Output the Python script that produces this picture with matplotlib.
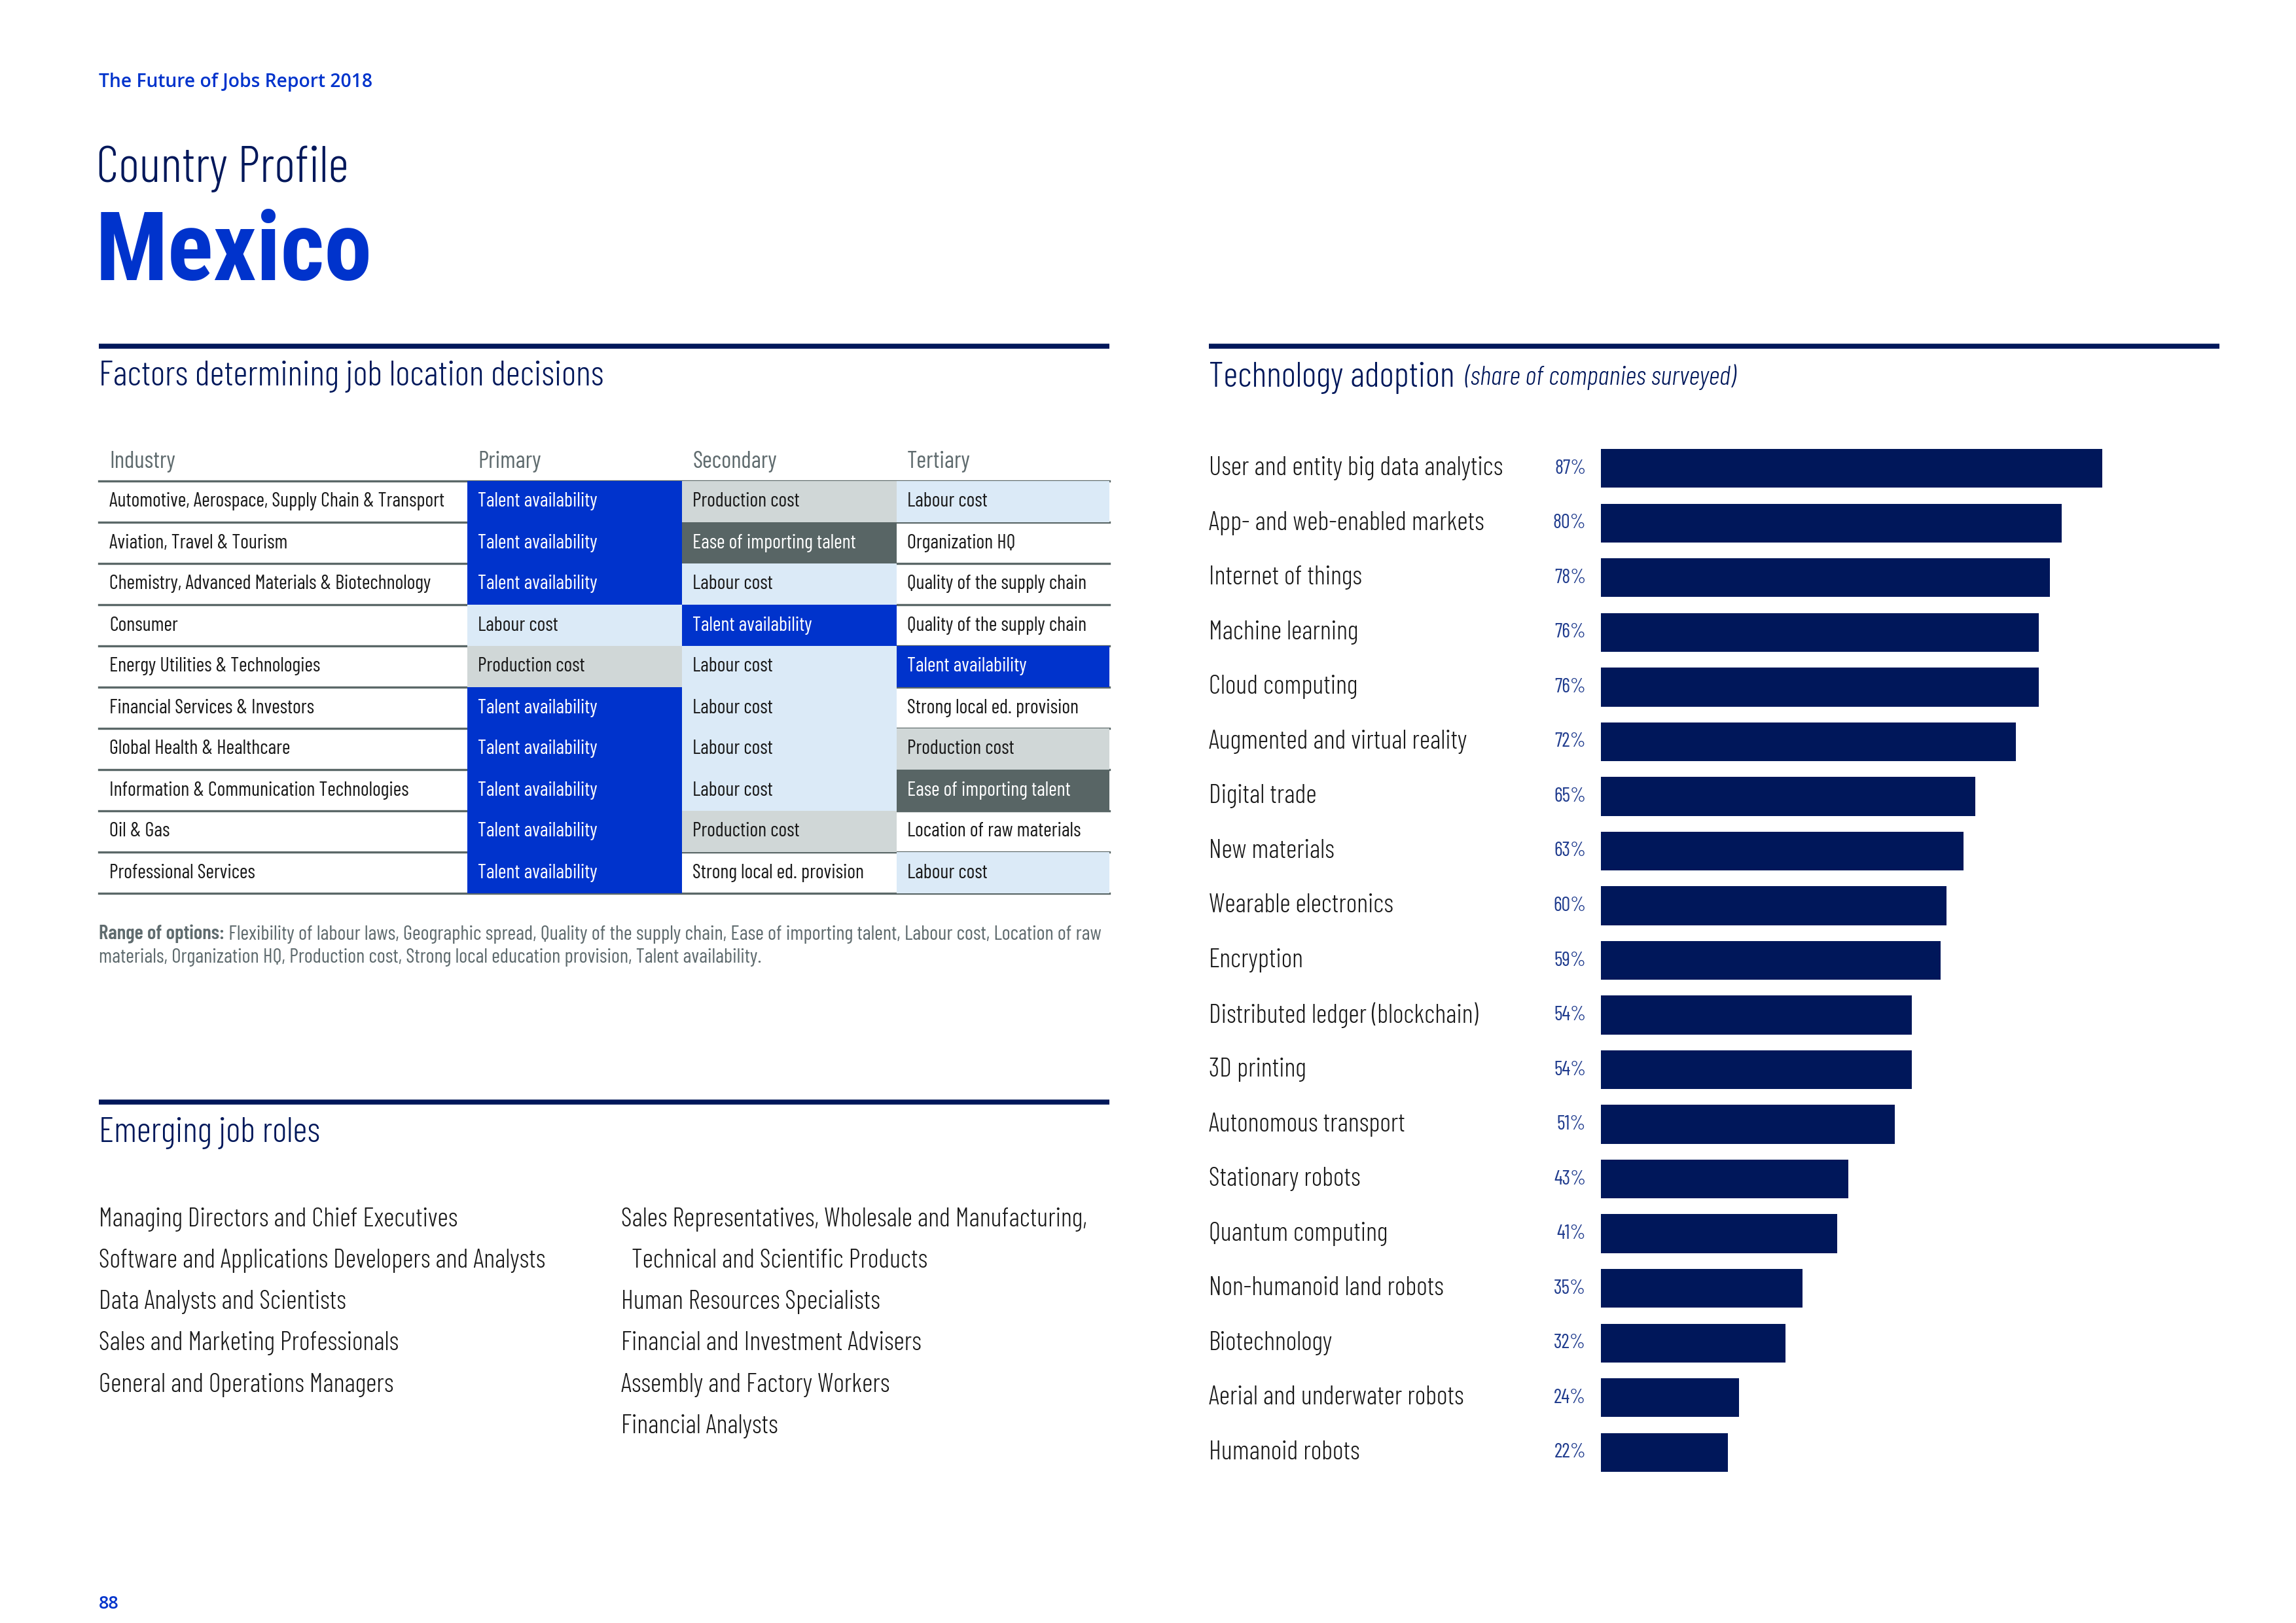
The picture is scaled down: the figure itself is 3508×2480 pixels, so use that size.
import matplotlib
matplotlib.use("Agg")
import matplotlib.pyplot as plt
from matplotlib import font_manager as fm
from matplotlib.patches import Rectangle

# fonts: the report is set in a light condensed grotesk
names = {f.name for f in fm.fontManager.ttflist}
narrow = next((n for n in ["Barlow Condensed", "Roboto Condensed", "Liberation Sans Narrow"]
               if n in names), "DejaVu Sans")
heavy = next((n for n in ["Roboto Condensed", "Barlow Condensed"] if n in names), narrow)
plain = next((n for n in ["Open Sans", "Liberation Sans"] if n in names), "DejaVu Sans")

# ---- data ----
industries = ["Automotive, Aerospace, Supply Chain & Transport", "Aviation, Travel & Tourism",
              "Chemistry, Advanced Materials & Biotechnology", "Consumer",
              "Energy Utilities & Technologies", "Financial Services & Investors",
              "Global Health & Healthcare", "Information & Communication Technologies",
              "Oil & Gas", "Professional Services"]
primary = ["Talent availability", "Talent availability", "Talent availability", "Labour cost",
           "Production cost", "Talent availability", "Talent availability", "Talent availability",
           "Talent availability", "Talent availability"]
secondary = ["Production cost", "Ease of importing talent", "Labour cost", "Talent availability",
             "Labour cost", "Labour cost", "Labour cost", "Labour cost", "Production cost",
             "Strong local ed. provision"]
tertiary = ["Labour cost", "Organization HQ", "Quality of the supply chain",
            "Quality of the supply chain", "Talent availability", "Strong local ed. provision",
            "Production cost", "Ease of importing talent", "Location of raw materials", "Labour cost"]
table_header = ["Industry", "Primary", "Secondary", "Tertiary"]

tech = ["User and entity big data analytics", "App- and web-enabled markets", "Internet of things",
        "Machine learning", "Cloud computing", "Augmented and virtual reality", "Digital trade",
        "New materials", "Wearable electronics", "Encryption", "Distributed ledger (blockchain)",
        "3D printing", "Autonomous transport", "Stationary robots", "Quantum computing",
        "Non-humanoid land robots", "Biotechnology", "Aerial and underwater robots",
        "Humanoid robots"]
share = [87, 80, 78, 76, 76, 72, 65, 63, 60, 59, 54, 54, 51, 43, 41, 35, 32, 24, 22]

roles_left = ["Managing Directors and Chief Executives",
              "Software and Applications Developers and Analysts",
              "Data Analysts and Scientists", "Sales and Marketing Professionals",
              "General and Operations Managers"]
roles_right = ["Sales Representatives, Wholesale and Manufacturing,",
               "  Technical and Scientific Products", "Human Resources Specialists",
               "Financial and Investment Advisers", "Assembly and Factory Workers",
               "Financial Analysts"]

range_label = "Range of options:"
range_text = [" Flexibility of labour laws, Geographic spread, Quality of the supply chain, "
              "Ease of importing talent, Labour cost, Location of raw",
              "materials, Organization HQ, Production cost, Strong local education provision, "
              "Talent availability."]

# ---- colours ----
BLUE = "#0033cc"
NAVY = "#00175a"
INK = "#1a1a1a"
GREY = "#5f6b6e"
cell_style = {"Talent availability": ("#0033cc", "white"),
              "Labour cost": ("#dbeaf7", INK),
              "Production cost": ("#d0d7d7", INK),
              "Ease of importing talent": ("#586565", "white")}

W, H = 3508, 2480
fig = plt.figure(figsize=(W / 100, H / 100), dpi=100)
fig.patch.set_facecolor("white")

page = fig.add_axes([0, 0, 1, 1])
page.set_xlim(0, W)
page.set_ylim(H, 0)
page.axis("off")

# header
page.text(151, 133, "The Future of Jobs Report 2018", family=plain, fontsize=20.3, weight=600,
          color=BLUE, va="baseline")
page.text(147, 278, "Country Profile", family=narrow, fontsize=56, weight=300, color=NAVY,
          va="baseline")
page.text(146, 428, "Mexico", family=heavy, fontsize=105, weight="bold", color=BLUE,
          va="baseline")
page.text(151, 2458, "88", family=plain, fontsize=19.5, weight=600, color=BLUE, va="baseline")

# section rules and titles
for x0, x1, y in [(151, 1695, 529), (1847, 3391, 529), (151, 1695, 1684)]:
    page.plot([x0, x1], [y, y], color=NAVY, lw=5.5, solid_capstyle="butt")
page.text(151, 576, "Factors determining job location decisions", family=narrow,
          fontsize=39, weight=300, color=NAVY, va="center")
page.text(151, 1731, "Emerging job roles", family=narrow, fontsize=39, weight=300,
          color=NAVY, va="center")
t = page.text(1847, 578, "Technology adoption", family=narrow, fontsize=39, weight=300,
              color=NAVY, va="center")
page.annotate("  (share of companies surveyed)", xy=(1, 0.14), xycoords=t, family=narrow,
              fontsize=30, weight=300, style="italic", color=NAVY, va="bottom")

# ---- table ----
col_edges = [151, 714, 1042, 1370, 1695]
tax = fig.add_axes([151 / W, 1 - 1365 / H, (1695 - 151) / W, (1365 - 735) / H])
tax.set_xlim(col_edges[0], col_edges[-1])
tax.set_ylim(len(industries), 0)
tax.axis("off")
for j, name in enumerate(table_header):
    page.text(col_edges[j] + 16, 705, name, family=narrow, fontsize=26, color=GREY,
              va="center")
for i in range(len(industries) + 1):
    tax.plot([col_edges[0], col_edges[-1]], [i, i], color="#5b6868", lw=2.4, zorder=1,
             clip_on=False)
for i, row in enumerate(zip(industries, primary, secondary, tertiary)):
    for j, val in enumerate(row):
        x0, x1 = col_edges[j], col_edges[j + 1]
        fc, tc = cell_style.get(val, (None, INK)) if j > 0 else (None, INK)
        if fc:
            tax.add_patch(Rectangle((x0, i), x1 - x0, 1, facecolor=fc, edgecolor="none",
                                    zorder=2))
        tax.text(x0 + 16, i + 0.5, val, family=narrow, fontsize=22, color=tc, va="center",
                 zorder=3)

r = page.text(151, 1427, range_label, family=narrow, fontsize=22.4, weight=600, color=GREY,
              va="center")
page.annotate(range_text[0], xy=(1, 0), xycoords=r, family=narrow, fontsize=22.4,
              color=GREY, va="bottom")
page.text(151, 1463, range_text[1], family=narrow, fontsize=22.4, color=GREY, va="center")

# ---- emerging roles ----
for k, role in enumerate(roles_left):
    page.text(151, 1863 + k * 63.3, role, family=narrow, fontsize=29, weight=300, color=INK,
              va="center")
for k, role in enumerate(roles_right):
    page.text(949, 1863 + k * 63.3, role, family=narrow, fontsize=29, weight=300, color=INK,
              va="center")

# ---- technology adoption bars ----
bx0, bx1, by0, by1 = 2446, 3326, 674, 2261
bax = fig.add_axes([bx0 / W, 1 - by1 / H, (bx1 - bx0) / W, (by1 - by0) / H])
ypos = list(range(len(tech)))
bax.barh(ypos, share, height=0.71, color=NAVY)
bax.set_xlim(0, 100)
bax.set_ylim(len(tech) - 0.5, -0.5)
bax.axis("off")
tr = bax.get_yaxis_transform()
for y, name, v in zip(ypos, tech, share):
    bax.text((1847 - bx0) / (bx1 - bx0), y, name, transform=tr, family=narrow, fontsize=29,
             weight=300, color=INK, va="center", clip_on=False)
    bax.text(-0.026, y, f"{v}%", transform=tr, family=narrow, fontsize=22, color="#203c8e",
             va="center", ha="right", clip_on=False)

fig.savefig("out.png", dpi=100, facecolor="white")
